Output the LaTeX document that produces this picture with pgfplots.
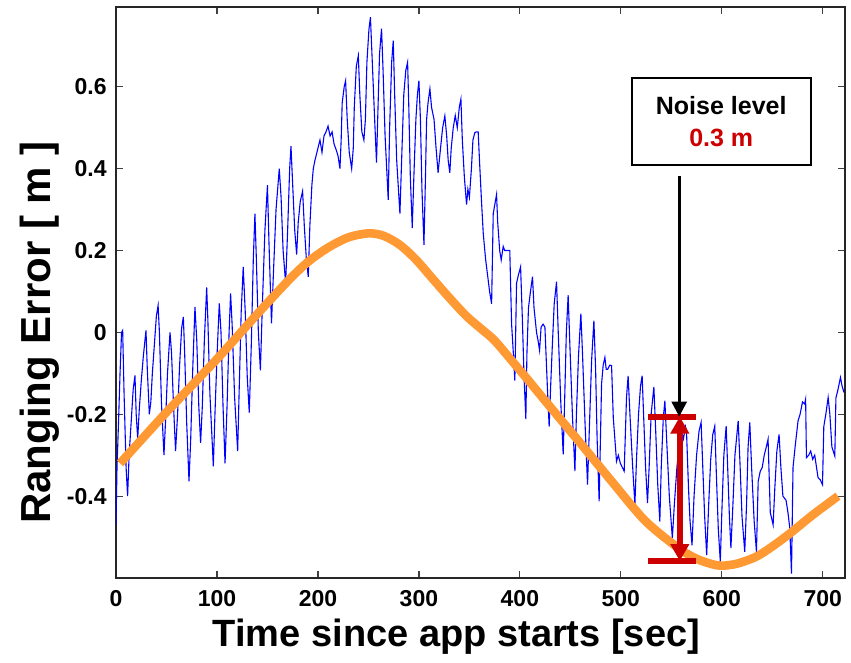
\documentclass[border=0pt]{standalone}
\usepackage{pgfplots}
\pgfplotsset{compat=1.18}
\usepackage{fontspec}
\setmainfont{Liberation Sans}
\usetikzlibrary{arrows.meta}

\definecolor{noiseblue}{RGB}{0,0,255}
\definecolor{fitorange}{RGB}{255,153,51}
\definecolor{marker}{RGB}{204,0,0}

\begin{document}
\begin{tikzpicture}
\begin{axis}[
    scale only axis,
    width=364.5bp, height=285.5bp,
    xmin=0, xmax=722,
    ymin=-0.6, ymax=0.795,
    xtick={0,100,...,700},
    ytick={-0.4,-0.2,0,0.2,0.4,0.6},
    tick align=inside,
    major tick length=3.5bp,
    axis line style={line width=0.75bp, black!85},
    every tick/.style={black!75, line width=0.6bp},
    /pgf/number format/assume math mode=true,
    /pgf/number format/.cd, fixed, precision=1, /pgfplots/.cd,
    ticklabel style={font=\fontsize{11.5bp}{13bp}\selectfont\bfseries, inner sep=0pt},
    xticklabel style={anchor=north, yshift=-6bp},
    yticklabel style={anchor=east, xshift=-4.5bp},
    xlabel={Time since app starts [sec]},
    ylabel={Ranging Error [ m ]},
    xlabel style={font=\fontsize{19bp}{22bp}\selectfont\bfseries, at={(axis description cs:0.467,0)}, anchor=center, yshift=-29.5bp},
    ylabel style={font=\fontsize{21bp}{24bp}\selectfont\bfseries, at={(axis description cs:-0.105,0.43)}, anchor=center, rotate=0},
]
% measured ranging error
\addplot[noiseblue, line width=0.55bp] coordinates {
(0,-0.47) (1,-0.33) (2.5,-0.22) (4,-0.10) (5.5,0.0) (6.6,0.005) (8,-0.15) (10,-0.33) (11.5,-0.40) (13,-0.30) (15,-0.22) (17,-0.14) (18.8,-0.105) (20,-0.2) (21.5,-0.26) (23,-0.19) (25,-0.12) (27,-0.06) (29.7,0.005) (31,-0.09) (33,-0.20) (34.5,-0.17) (36,-0.10) (38,-0.03) (40,0.04) (41.7,0.066) (43,0.0) (45,-0.17) (47.5,-0.30) (49,-0.22) (51,-0.10) (53.5,0.0) (55,-0.05) (57,-0.18) (59,-0.29) (61,-0.20) (63,-0.08) (65,0.01) (66.7,0.038) (68,-0.05) (70,-0.22) (72.3,-0.364) (74,-0.26) (76,-0.09) (78.2,0.062) (80,-0.02) (82,-0.18) (83.8,-0.27) (85.5,-0.18) (87.5,-0.02) (89.8,0.11) (91,0.03) (93,-0.15) (96.4,-0.327) (98,-0.2) (100,-0.06) (102.3,0.071) (104,0.0) (106,-0.18) (108,-0.32) (110,-0.18) (112,0.0) (113.5,0.095) (115,0.02) (117.5,-0.16) (120.5,-0.29) (122,-0.14) (124,0.05) (126,0.16) (128,0.05) (130,-0.11) (132,-0.196) (134,-0.03) (136,0.18) (137.6,0.29) (139,0.18) (141,0.0) (143,-0.093) (145,0.07) (147.5,0.25) (150,0.36) (151.5,0.22) (154,0.022) (156,0.15) (158.5,0.30) (161.7,0.40) (163.5,0.33) (165.5,0.2) (168,0.12) (170,0.25) (172,0.40) (173.3,0.455) (175,0.36) (177,0.25) (178.9,0.19) (180.5,0.27) (182.5,0.32) (184.8,0.345) (186.5,0.26) (188.5,0.18) (190.4,0.136) (192,0.26) (194,0.36) (195.4,0.40) (197,0.42) (199,0.44) (201,0.46) (202,0.47) (204,0.44) (206,0.48) (208,0.49) (210,0.504) (212,0.48) (214,0.49) (216,0.46) (218.5,0.443) (220,0.43) (221.8,0.40) (223,0.47) (224,0.56) (226,0.60) (227.4,0.615) (229,0.52) (231,0.44) (233.4,0.40) (235,0.45) (236,0.55) (238,0.65) (240,0.676) (241.5,0.58) (243.5,0.49) (245.5,0.47) (247,0.52) (248.5,0.66) (250.5,0.74) (252,0.77) (253.5,0.68) (256,0.53) (258,0.415) (259.5,0.55) (261,0.68) (263,0.742) (264.5,0.64) (266.5,0.48) (269.6,0.324) (271,0.50) (273,0.66) (274.6,0.713) (276,0.58) (278,0.42) (281.2,0.29) (283,0.43) (285,0.58) (287,0.64) (288.8,0.66) (290,0.55) (291.5,0.38) (293.4,0.255) (295,0.38) (297,0.52) (298.5,0.58) (300,0.615) (301.5,0.52) (303,0.35) (305,0.214) (306.5,0.38) (307.6,0.52) (309,0.56) (310.9,0.595) (312.5,0.55) (315,0.52) (317,0.45) (319,0.39) (321,0.44) (323.5,0.50) (325.7,0.529) (327.5,0.48) (329,0.42) (330.6,0.39) (332,0.45) (334,0.50) (336,0.53) (338,0.50) (340,0.55) (341.6,0.57) (343,0.47) (345,0.38) (347.2,0.312) (348.5,0.35) (350,0.33) (352,0.40) (353.5,0.47) (355.4,0.488) (357,0.49) (358.7,0.49) (360,0.42) (362,0.32) (363.7,0.2425) (366,0.18) (368.5,0.13) (370,0.10) (372,0.07) (373.6,0.29) (375,0.31) (376.9,0.337) (378,0.27) (380,0.20) (381.5,0.177) (383.5,0.21) (385,0.2) (388,0.2) (390,0.2) (391.8,0.02) (393.5,-0.05) (395,-0.118) (396.7,0.12) (398.5,0.14) (400.7,0.16) (402.5,0.03) (404,-0.10) (405.9,-0.212) (407,-0.05) (408.5,0.06) (410.5,0.10) (412.5,0.136) (414,0.06) (416.5,0.0) (418,-0.02) (419.5,-0.044) (421,0.013) (423,0.02) (424.8,0.013) (426,-0.06) (427.5,-0.15) (429,-0.23) (430.5,-0.13) (432,-0.04) (434,0.07) (436.3,0.124) (438,0.0) (440.5,-0.17) (442.9,-0.298) (444.5,-0.15) (446,0.0) (447.8,0.091) (449.5,-0.03) (452,-0.2) (454.5,-0.339) (456,-0.2) (458,-0.06) (460.4,0.046) (462,-0.05) (464.5,-0.22) (467,-0.372) (469,-0.22) (471,-0.07) (473.3,0.029) (475,-0.09) (476.5,-0.26) (478.5,-0.413) (480.9,-0.126) (482.5,-0.08) (484.2,-0.061) (485.5,-0.09) (487,-0.09) (489,-0.08) (490.8,-0.081) (492.5,-0.208) (495.7,-0.315) (497.5,-0.30) (499.5,-0.32) (501.5,-0.33) (503.3,-0.339) (505.6,-0.159) (507.2,-0.106) (509,-0.2) (511.5,-0.32) (513.9,-0.421) (515.5,-0.31) (517.5,-0.2) (519.5,-0.13) (521.1,-0.106) (522.5,-0.2) (524.5,-0.33) (526.4,-0.417) (528,-0.33) (530,-0.2) (532.7,-0.133) (534.5,-0.24) (536.5,-0.37) (538.6,-0.462) (540,-0.33) (542,-0.21) (543.6,-0.167) (545.5,-0.27) (548,-0.40) (551,-0.503) (553,-0.42) (555.5,-0.33) (558,-0.27) (560,-0.24) (562,-0.26) (564,-0.23) (565,-0.24) (567,-0.38) (568.5,-0.46) (570.5,-0.52) (572.5,-0.40) (575,-0.30) (577.5,-0.24) (579.5,-0.22) (581,-0.32) (583,-0.45) (585,-0.544) (587,-0.42) (589,-0.31) (591,-0.25) (593,-0.229) (594.5,-0.34) (596.5,-0.48) (598.5,-0.56) (600,-0.44) (602,-0.30) (604.3,-0.229) (605.8,-0.33) (607.5,-0.45) (609,-0.527) (611,-0.42) (613,-0.30) (616.2,-0.216) (618,-0.32) (620,-0.45) (622.7,-0.536) (624.5,-0.42) (626,-0.28) (627.7,-0.22) (629.5,-0.33) (632,-0.46) (634.3,-0.536) (636,-0.364) (638,-0.34) (640,-0.33) (642,-0.30) (644,-0.28) (645.8,-0.261) (647,-0.36) (648,-0.44) (650.8,-0.47) (652.5,-0.38) (654.5,-0.29) (656.7,-0.249) (658.5,-0.33) (660.5,-0.40) (663.6,-0.41) (665.5,-0.44) (667.3,-0.478) (669,-0.589) (670.5,-0.33) (673,-0.27) (675.5,-0.216) (677.5,-0.20) (679.9,-0.17) (682,-0.175) (683,-0.163) (683.8,-0.306) (686,-0.30) (688,-0.29) (690,-0.31) (692,-0.30) (695.3,-0.355) (697.5,-0.36) (699.7,-0.372) (701,-0.23) (703,-0.2) (705.3,-0.159) (707,-0.2) (709,-0.28) (711.9,-0.302) (713,-0.16) (715,-0.14) (717.5,-0.11) (719,-0.13) (721,-0.147)
};
% smoothed trend
\addplot[fitorange, line width=4.3bp, smooth] coordinates {
(4,-0.32) (50,-0.195) (100,-0.065) (140,0.045) (170,0.125) (190,0.172) (210,0.207) (230,0.232) (250,0.242) (265,0.236) (281,0.214) (297,0.178) (314,0.13) (330,0.085) (347,0.04) (362,0.008) (375,-0.02) (393,-0.072) (410,-0.122) (426,-0.17) (458,-0.265) (491,-0.364) (524,-0.46) (557,-0.527) (575,-0.553) (590,-0.566) (600,-0.57) (615,-0.565) (634,-0.548) (650,-0.523) (667,-0.492) (690,-0.446) (715,-0.40)
};
% noise level annotation
\draw[marker, line width=3bp] (axis cs:526.7,-0.2057) -- (axis cs:574,-0.2057);
\draw[marker, line width=3bp] (axis cs:526.7,-0.5585) -- (axis cs:574,-0.5585);
\draw[marker, line width=3bp, {Triangle[length=8.5bp,width=9bp]}-{Triangle[length=8.5bp,width=9bp]}] (axis cs:558.4,-0.5585) -- (axis cs:558.4,-0.2057);
\draw[black, line width=1.4bp, -{Triangle[length=7.5bp,width=7.5bp]}] (axis cs:557.8,0.3816) -- (axis cs:557.8,-0.2057);
\draw[black, line width=1bp, fill=white] (axis cs:510.6,0.409) rectangle (axis cs:688.1,0.621);
\node[font=\fontsize{12.5bp}{14bp}\selectfont\bfseries, inner sep=0pt] at (axis cs:599.4,0.5536) {Noise level};
\node[font=\fontsize{12.5bp}{14bp}\selectfont\bfseries, text=marker, inner sep=0pt] at (axis cs:599.4,0.474) {0.3 m};
\end{axis}
\pgfresetboundingbox
\path[use as bounding box] ([xshift=-58bp,yshift=-42.5bp]current axis.south west) rectangle ([xshift=3bp,yshift=3.5bp]current axis.north east);
\end{tikzpicture}
\end{document}
